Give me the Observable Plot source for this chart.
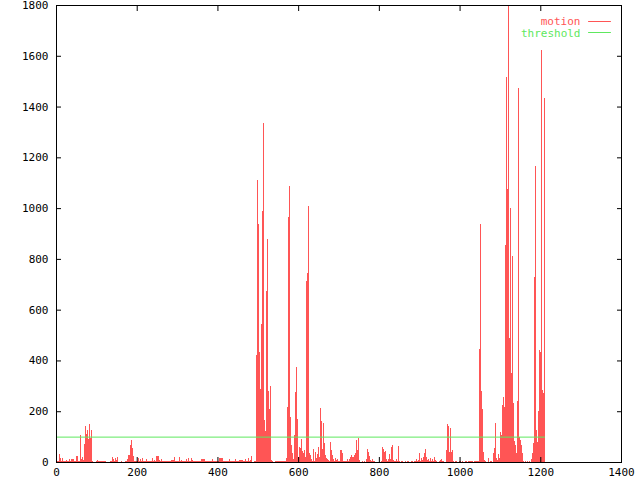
<!DOCTYPE html>
<html>
<head>
<meta charset="utf-8">
<script src="https://cdn.jsdelivr.net/npm/d3@7"></script>
<script src="https://cdn.jsdelivr.net/npm/@observablehq/plot@0.6"></script>
<style>
  html, body { margin: 0; padding: 0; background: #fff; }
</style>
</head>
<body>
<div id="chart"></div>
<script>
// ---- data ----
const frameStep = 2.478; // frames per sample column
const motion = [
  0, 5, 4, 31, 15, 3, 16, 3, 2, 4,
  8, 3, 2, 10, 3, 10, 10, 10, 5, 3,
  24, 24, 3, 2, 106, 10, 20, 8, 71, 143,
  110, 126, 90, 150, 94, 126, 3, 0, 0, 0,
  2, 8, 2, 2, 2, 5, 5, 5, 5, 5,
  1, 1, 0, 0, 2, 3, 18, 10, 5, 17,
  8, 18, 1, 0, 0, 2, 0, 1, 0, 2,
  3, 10, 28, 27, 67, 87, 54, 24, 3, 5,
  5, 5, 15, 3, 10, 2, 15, 5, 3, 5,
  10, 2, 5, 5, 5, 2, 15, 3, 8, 2,
  24, 24, 24, 8, 2, 13, 3, 2, 5, 5,
  5, 5, 2, 2, 3, 8, 8, 8, 20, 5,
  5, 2, 3, 18, 3, 8, 2, 2, 3, 5,
  10, 5, 15, 3, 2, 15, 8, 2, 3, 5,
  5, 2, 3, 2, 3, 10, 10, 10, 10, 2,
  3, 2, 5, 5, 5, 3, 10, 2, 3, 2,
  5, 2, 3, 15, 15, 15, 15, 5, 2, 3,
  2, 5, 3, 10, 2, 3, 5, 2, 3, 10,
  3, 5, 2, 8, 8, 8, 8, 3, 2, 10,
  3, 5, 14, 3, 8, 24, 1, 1, 2, 5,
  420, 1110, 937, 434, 286, 543, 988, 1336, 165, 122,
  674, 878, 280, 207, 299, 8, 4, 0, 1, 3,
  5, 5, 5, 5, 5, 5, 5, 5, 5, 5,
  16, 218, 965, 1087, 178, 67, 37, 10, 106, 277,
  375, 170, 21, 60, 54, 90, 45, 37, 47, 20,
  713, 744, 1008, 37, 28, 13, 5, 51, 5, 40,
  14, 31, 60, 18, 211, 163, 50, 152, 76, 28,
  14, 10, 8, 5, 80, 47, 28, 10, 5, 14,
  8, 10, 5, 4, 47, 47, 34, 5, 5, 5,
  5, 10, 5, 10, 18, 28, 18, 18, 28, 37,
  87, 47, 96, 8, 0, 0, 4, 0, 4, 0,
  10, 53, 40, 24, 8, 4, 10, 5, 4, 1,
  1, 1, 1, 0, 0, 4, 60, 50, 40, 44,
  10, 5, 10, 31, 10, 60, 66, 8, 5, 5,
  10, 4, 63, 4, 1, 4, 2, 1, 0, 4,
  1, 2, 4, 1, 0, 2, 4, 1, 2, 5,
  10, 5, 8, 34, 5, 14, 8, 18, 37, 53,
  21, 8, 10, 4, 14, 5, 10, 5, 18, 8,
  4, 1, 1, 4, 8, 10, 5, 4, 1, 1,
  47, 150, 142, 40, 135, 40, 47, 5, 1, 2,
  4, 1, 0, 4, 2, 0, 4, 1, 0, 4,
  2, 0, 4, 2, 4, 3, 4, 0, 4, 4,
  2, 4, 4, 446, 937, 280, 207, 41, 8, 2,
  0, 0, 17, 0, 2, 2, 0, 34, 54, 152,
  17, 8, 31, 14, 120, 106, 224, 257, 215, 855,
  1517, 1075, 1800, 490, 999, 349, 811, 231, 84, 67,
  34, 241, 1474, 97, 87, 67, 37, 4, 0, 4,
  0, 4, 0, 4, 0, 10, 34, 73, 730, 1167,
  126, 80, 201, 441, 434, 1622, 283, 273, 1434
];
const thresholdValue = 100;
const xTicks = [0, 200, 400, 600, 800, 1000, 1200, 1400];
const yTicks = [0, 200, 400, 600, 800, 1000, 1200, 1400, 1600, 1800];
const seriesNames = ["motion", "threshold"];
const seriesColors = ["#ff5555", "#5ee85e"];

// ---- build table ----
const rows = motion.map((v, i) => ({x1: i * frameStep, x2: (i + 1) * frameStep, v}));
const lastFrame = motion.length * frameStep;
const thresholdRows = [{y: thresholdValue, x1: 0, x2: lastFrame}];

const lineShape = {draw(context, l) { context.moveTo(0, 0); context.lineTo(0, -l); }};
const fmt = d3.format("d");

const chart = Plot.plot({
  width: 640,
  height: 480,
  marginLeft: 56,
  marginRight: 19,
  marginTop: 5,
  marginBottom: 18,
  style: {fontFamily: "'DejaVu Sans Mono', monospace", fontSize: "11px", background: "#fff", color: "#000"},
  x: {domain: [0, 1400], label: null},
  y: {domain: [0, 1800], label: null},
  marks: [
    Plot.rectY(rows, {x1: "x1", x2: "x2", y: "v", fill: seriesColors[0], shapeRendering: "crispEdges"}),
    Plot.ruleY(thresholdRows, {y: "y", x1: "x1", x2: "x2", stroke: seriesColors[1], strokeWidth: 1}),
    // inward ticks on all four sides
    Plot.axisX(xTicks, {anchor: "bottom", tickSize: 5, dy: -5, tickFormat: () => "", fill: "none", label: null}),
    Plot.axisX(xTicks, {anchor: "top", tickSize: 5, dy: 5, tickFormat: () => "", fill: "none", label: null}),
    Plot.axisY(yTicks, {anchor: "left", tickSize: 5, dx: 5, tickFormat: () => "", fill: "none", label: null}),
    Plot.axisY(yTicks, {anchor: "right", tickSize: 5, dx: -5, tickFormat: () => "", fill: "none", label: null}),
    // tick labels
    Plot.axisX(xTicks, {anchor: "bottom", tickSize: 0, tickPadding: 6, tickFormat: fmt, label: null, fill: "#000"}),
    Plot.axisY(yTicks, {anchor: "left", tickSize: 0, tickPadding: 8, tickFormat: fmt, label: null, fill: "#000"}),
    Plot.frame({stroke: "#000"}),
    // legend
    Plot.text([seriesNames[0]], {frameAnchor: "top-right", text: d => d, dx: -41, dy: 15.5, textAnchor: "end", lineAnchor: "middle", fill: seriesColors[0]}),
    Plot.text([seriesNames[1]], {frameAnchor: "top-right", text: d => d, dx: -41, dy: 27.5, textAnchor: "end", lineAnchor: "middle", fill: seriesColors[1]}),
    Plot.vector([seriesNames[0]], {frameAnchor: "top-right", dx: -33, dy: 16, rotate: 90, length: 22, anchor: "start", shape: lineShape, stroke: seriesColors[0], strokeWidth: 1}),
    Plot.vector([seriesNames[1]], {frameAnchor: "top-right", dx: -33, dy: 27, rotate: 90, length: 22, anchor: "start", shape: lineShape, stroke: seriesColors[1], strokeWidth: 1})
  ]
});
document.getElementById("chart").appendChild(chart);
</script>
</body>
</html>
